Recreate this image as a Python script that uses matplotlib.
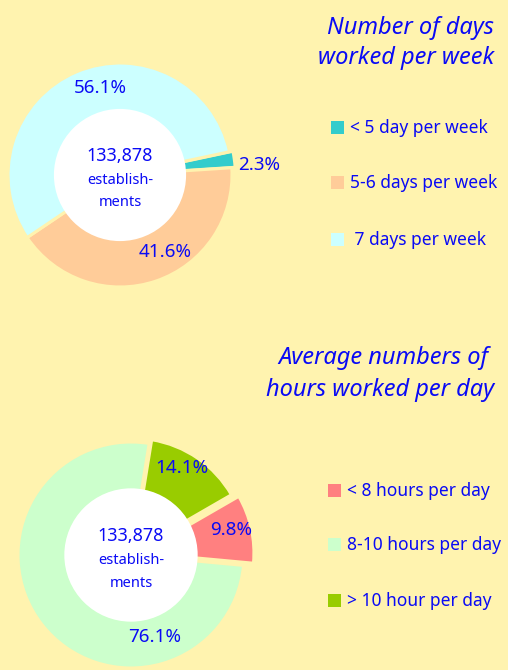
import matplotlib.pyplot as plt
from matplotlib.patches import Circle

BG = '#FFF3AF'
BLUE = '#0A0AF5'
FONT = ['Noto Sans', 'DejaVu Sans']

# --- data ---
days_labels = ['< 5 day per week', '5-6 days per week', ' 7 days per week']
days_values = [2.3, 41.6, 56.1]
days_colors = ['#33CCCC', '#FFCC99', '#CCFFFF']

hours_labels = ['< 8 hours per day', '8-10 hours per day', '> 10 hour per day']
hours_values = [9.8, 76.1, 14.1]
hours_colors = ['#FF8080', '#CCFFCC', '#99CC00']

total_text = '133,878'

W, H = 508, 670
fig = plt.figure(figsize=(W / 100, H / 100), dpi=100)
fig.patch.set_facecolor(BG)


def donut(cx, cy, R, values, colors, start, explode, label_pos):
    # axes square in pixels, data unit 1 = R px
    k = 1.5
    ax = fig.add_axes([(cx - k * R) / W, 1 - (cy + k * R) / H,
                       2 * k * R / W, 2 * k * R / H])
    ax.set_facecolor('none')
    wedges, _ = ax.pie(values, colors=colors, startangle=start,
                       counterclock=False, explode=explode, radius=1,
                       wedgeprops=dict(edgecolor=BG, linewidth=2.2))
    for w in wedges:
        w.set_clip_on(False)
    ax.add_patch(Circle((0, 0), 0.59, facecolor='white', edgecolor='none',
                        zorder=5, clip_on=False))
    for v, (x, y) in zip(values, label_pos):
        ax.text(x, y, f'{v:.1f}%', ha='center', va='center', fontsize=13.5,
                color=BLUE, family=FONT, zorder=6)
    ax.text(0, 0.17, total_text, ha='center', va='center', fontsize=13,
            color=BLUE, family=FONT, zorder=6)
    ax.text(0, -0.05, 'establish-', ha='center', va='center', fontsize=10.5,
            color=BLUE, family=FONT, zorder=6)
    ax.text(0, -0.25, 'ments', ha='center', va='center', fontsize=10.5,
            color=BLUE, family=FONT, zorder=6)
    ax.set_xlim(-k, k)
    ax.set_ylim(-k, k)
    ax.set_aspect('equal')
    ax.axis('off')
    return ax


def legend(x, ys, labels, colors):
    for y, lab, c in zip(ys, labels, colors):
        fig.patches.append(plt.Rectangle((x / W, 1 - (y + 6) / H), 13 / W, 13 / H,
                                         transform=fig.transFigure,
                                         facecolor=c, edgecolor='none'))
        fig.text((x + 19) / W, 1 - y / H, lab, ha='left', va='center',
                 fontsize=12.5, color=BLUE, family=FONT)


# top chart
donut(120, 175, 112, days_values, days_colors, 12, [0.03, 0, 0],
      [(1.24, 0.09), (0.40, -0.69), (-0.18, 0.78)])
fig.text(494 / W, 1 - 28 / H, 'Number of days', ha='right', va='center',
         fontsize=17, style='italic', color=BLUE, family=FONT)
fig.text(494 / W, 1 - 58 / H, 'worked per week', ha='right', va='center',
         fontsize=17, style='italic', color=BLUE, family=FONT)
legend(331, [128, 183, 240], days_labels, days_colors)

# bottom chart
donut(131, 555, 113, hours_values, hours_colors, 30, [0.09, 0, 0.04],
      [(0.89, 0.22), (0.21, -0.73), (0.45, 0.77)])
fig.text(488 / W, 1 - 358 / H, 'Average numbers of', ha='right', va='center',
         fontsize=17, style='italic', color=BLUE, family=FONT)
fig.text(494 / W, 1 - 390 / H, 'hours worked per day', ha='right', va='center',
         fontsize=17, style='italic', color=BLUE, family=FONT)
legend(328, [491, 545, 601], hours_labels, hours_colors)

fig.savefig('out.png', dpi=100, facecolor=BG)
